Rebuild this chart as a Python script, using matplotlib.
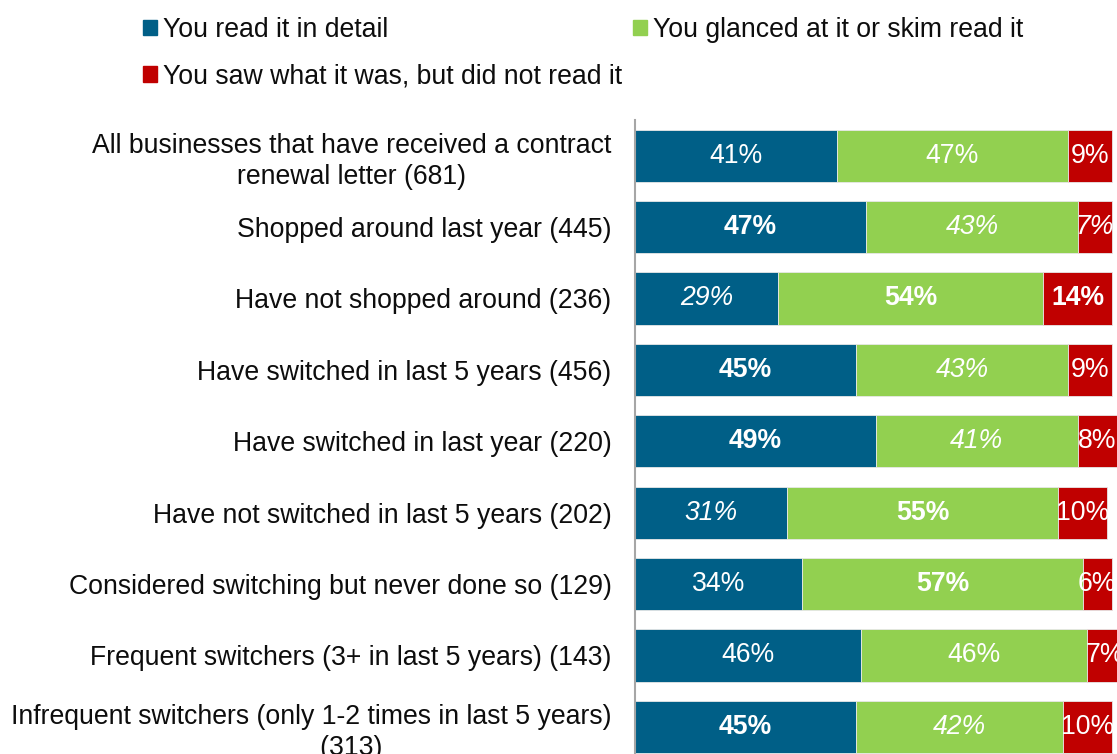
import matplotlib
matplotlib.use("Agg")
import matplotlib.pyplot as plt
from matplotlib.patches import Patch

plt.rcParams['font.family'] = ['Liberation Sans', 'DejaVu Sans']

categories = [
    "All businesses that have received a contract\nrenewal letter (681)",
    "Shopped around last year (445)",
    "Have not shopped around (236)",
    "Have switched in last 5 years (456)",
    "Have switched in last year (220)",
    "Have not switched in last 5 years (202)",
    "Considered switching but never done so (129)",
    "Frequent switchers (3+ in last 5 years) (143)",
    "Infrequent switchers (only 1-2 times in last 5 years)\n           (313)",
]
series_names = ["You read it in detail", "You glanced at it or skim read it",
                "You saw what it was, but did not read it"]
detail = [41, 47, 29, 45, 49, 31, 34, 46, 45]
glanced = [47, 43, 54, 43, 41, 55, 57, 46, 42]
saw = [9, 7, 14, 9, 8, 10, 6, 7, 10]
# label styles: n = normal, b = bold, i = italic
styles_detail = ["n", "b", "i", "b", "b", "i", "n", "n", "b"]
styles_glanced = ["n", "i", "b", "i", "i", "b", "b", "n", "i"]
styles_saw = ["n", "i", "b", "n", "n", "n", "n", "n", "n"]

colors = ["#005F87", "#92D050", "#C00000"]
FS = 19.2
TXT = "#0d0d0d"

W, H = 1117, 754
fig = plt.figure(figsize=(W / 100, H / 100), dpi=100)
ax = fig.add_axes([635 / W, 0, 482 / W, 634 / H])

ypos = list(range(len(categories)))
series = [detail, glanced, saw]
styles = [styles_detail, styles_glanced, styles_saw]
left = [0] * len(categories)
for vals, col, sty in zip(series, colors, styles):
    ax.barh(ypos, vals, left=left, height=0.73, color=col,
            edgecolor="#E8E8E8", linewidth=0.6)
    for y, v, l, s in zip(ypos, vals, left, sty):
        ax.text(l + v / 2, y, f"{v}%", ha="center", va="center", color="white",
                fontsize=FS,
                fontweight="bold" if s == "b" else "normal",
                fontstyle="italic" if s == "i" else "normal",
                clip_on=False)
    left = [a + b for a, b in zip(left, vals)]

ax.set_xlim(0, 98.0)
ax.set_ylim(8.38, -0.5)
ax.set_yticks(ypos)
ax.set_yticklabels(categories, fontsize=FS, color=TXT)
for t in ax.get_yticklabels():
    t.set_multialignment("center")
    t.set_linespacing(1.28)
ax.tick_params(axis="y", length=0, pad=17)
ax.set_xticks([])
for s in ["top", "right", "bottom"]:
    ax.spines[s].set_visible(False)
ax.spines["left"].set_color("#A6A6A6")
ax.spines["left"].set_linewidth(1.5)

handles = [Patch(color=colors[0], label=series_names[0]),
           Patch(color=colors[2], label=series_names[2]),
           Patch(color=colors[1], label=series_names[1])]
leg = fig.legend(handles=handles, ncol=2, loc="upper left",
                 bbox_to_anchor=(119 / W, 1 + 7 / H), frameon=False,
                 fontsize=FS, handlelength=0.52, handleheight=0.52,
                 handletextpad=0.22, columnspacing=0.42, labelspacing=0.77)
for t in leg.get_texts():
    t.set_color(TXT)

fig.savefig("out.png", dpi=100)
